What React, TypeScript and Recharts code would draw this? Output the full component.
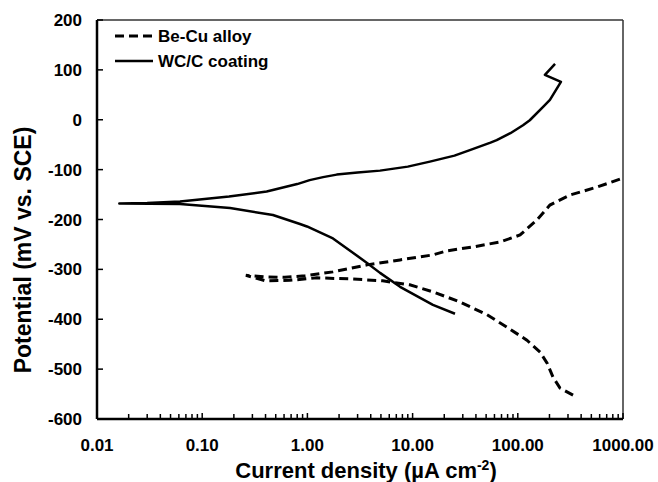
import React from 'react';
import { LineChart, Line, XAxis, YAxis, ReferenceLine, Legend } from 'recharts';

// Be-Cu alloy polarization curve (cathodic end -> Ecorr -> anodic end)
const becuCurrent = [335, 252, 216, 190, 163, 122, 79, 51, 28, 15.6, 9.4, 5.2, 2.5, 1.23, 0.68, 0.40, 0.26, 0.40, 0.61, 0.95, 1.75, 3.69, 7.6, 15.6, 21, 28, 37.5, 68, 105, 152, 202, 313, 566, 1000];
const becuPotential = [-552, -538, -516, -488, -466, -442, -416, -391, -365, -345, -331, -323, -319, -317, -322, -323, -312, -315, -316, -313, -305, -291, -281, -271, -263, -259, -255, -245, -231, -201, -171, -151, -135, -117];

// WC/C coating polarization curve
const wcCurrent = [25.3, 15.6, 7.6, 4.9, 3.69, 1.75, 0.99, 0.85, 0.47, 0.184, 0.0615, 0.0163, 0.03, 0.0615, 0.18, 0.41, 0.80, 1.05, 1.41, 1.9, 3.0, 4.9, 9, 14.6, 25, 35, 55, 63, 85, 112, 130, 174, 202, 257, 181, 226];
const wcPotential = [-389, -371, -335, -307, -287, -238, -214, -209, -191, -177, -169, -168, -167, -164, -154, -144, -129, -121, -115, -110, -106, -102, -94, -84, -72, -61, -46, -41, -27, -11, -1, 26, 40, 76, 90, 112];

const seriesNames = ['Be-Cu alloy', 'WC/C coating'];
const xMajorTicks = [0.01, 0.1, 1, 10, 100, 1000];
const xMinorFactors = [2, 3, 4, 5, 6, 7, 8, 9];
const yTicks = [-600, -500, -400, -300, -200, -100, 0, 100, 200];

const becuData = becuCurrent.map((x, i) => ({ x, y: becuPotential[i] }));
const wcData = wcCurrent.map((x, i) => ({ x, y: wcPotential[i] }));

const xTicks: number[] = [];
xMajorTicks.forEach((m, i) => {
  xTicks.push(m);
  if (i < xMajorTicks.length - 1) xMinorFactors.forEach((f) => xTicks.push(+(m * f).toPrecision(6)));
});

const FONT = '"Liberation Sans", Arial, sans-serif';
const X_MARGIN = 20;
const Y_MARGIN = 15;

const isMajor = (v: number) => xMajorTicks.some((m) => Math.abs(m - v) < 1e-9);

const XTick = (props: any) => {
  const { x, y, payload } = props;
  const axisY = y - X_MARGIN;
  const major = isMajor(payload.value);
  return (
    <g>
      <line x1={x} x2={x} y1={axisY} y2={axisY - (major ? 6 : 5)} stroke="#000" strokeWidth={1.5} />
      {major && (
        <text x={x} y={y} dy="0.71em" textAnchor="middle" fontFamily={FONT} fontWeight="bold" fontSize={17} fill="#000">
          {payload.value.toFixed(2)}
        </text>
      )}
    </g>
  );
};

const YTick = (props: any) => {
  const { x, y, payload } = props;
  const axisX = x + Y_MARGIN;
  return (
    <g>
      <line x1={axisX} x2={axisX + 6} y1={y} y2={y} stroke="#000" strokeWidth={1.5} />
      <text x={x} y={y} dy="0.355em" textAnchor="end" fontFamily={FONT} fontWeight="bold" fontSize={17} fill="#000">
        {payload.value}
      </text>
    </g>
  );
};

const XTitle = () => (
  <text x={366} y={478} textAnchor="middle" fontFamily={FONT} fontWeight="bold" fontSize={22} fill="#000">
    <tspan>Current density (µA cm</tspan>
    <tspan dy={-8} fontSize={14}>-2</tspan>
    <tspan dy={8}>)</tspan>
  </text>
);

const YTitle = () => (
  <text x={31} y={250} transform="rotate(-90 31 250)" textAnchor="middle" fontFamily={FONT} fontWeight="bold" fontSize={23} fill="#000">
    Potential (mV vs. SCE)
  </text>
);

const LegendBox = () => (
  <svg width={200} height={52} style={{ display: 'block' }}>
    <line x1={5} x2={43} y1={14} y2={14} stroke="#000" strokeWidth={3} strokeDasharray="9 5" />
    <text x={48} y={20} fontFamily={FONT} fontWeight="bold" fontSize={17} fill="#000">{seriesNames[0]}</text>
    <line x1={5} x2={43} y1={39} y2={39} stroke="#000" strokeWidth={2.5} />
    <text x={48} y={45} fontFamily={FONT} fontWeight="bold" fontSize={17} fill="#000">{seriesNames[1]}</text>
  </svg>
);

export default function App() {
  return (
    <div style={{ position: 'fixed', left: 0, top: 0, width: 658, height: 482, background: '#fff' }}>
      <LineChart width={658} height={482} margin={{ top: 20, right: 35, bottom: 0, left: 0 }} style={{ fontFamily: FONT }}>
        <XAxis
          dataKey="x"
          type="number"
          scale="log"
          domain={[0.01, 1000]}
          allowDataOverflow
          ticks={xTicks}
          interval={0}
          height={63}
          tickSize={0}
          tickMargin={X_MARGIN}
          tickLine={false}
          tick={<XTick />}
          axisLine={{ stroke: '#000', strokeWidth: 2.5 }}
          label={<XTitle />}
        />
        <YAxis
          type="number"
          domain={[-600, 200]}
          ticks={yTicks}
          interval={0}
          width={97}
          tickSize={0}
          tickMargin={Y_MARGIN}
          tickLine={false}
          tick={<YTick />}
          axisLine={{ stroke: '#000', strokeWidth: 2.5 }}
          label={<YTitle />}
        />
        <ReferenceLine y={200} stroke="#333" strokeWidth={1.5} />
        <ReferenceLine x={1000} stroke="#333" strokeWidth={1.5} />
        <Legend
          layout="vertical"
          align="center"
          verticalAlign="middle"
          content={<LegendBox />}
          wrapperStyle={{ left: 110, top: 22, width: 200, height: 52 }}
        />
        <Line
          data={becuData}
          dataKey="y"
          name={seriesNames[0]}
          type="linear"
          stroke="#000"
          strokeWidth={3}
          strokeDasharray="9 5"
          dot={false}
          isAnimationActive={false}
        />
        <Line
          data={wcData}
          dataKey="y"
          name={seriesNames[1]}
          type="linear"
          stroke="#000"
          strokeWidth={2.5}
          strokeLinejoin="round"
          dot={false}
          isAnimationActive={false}
        />
      </LineChart>
    </div>
  );
}
